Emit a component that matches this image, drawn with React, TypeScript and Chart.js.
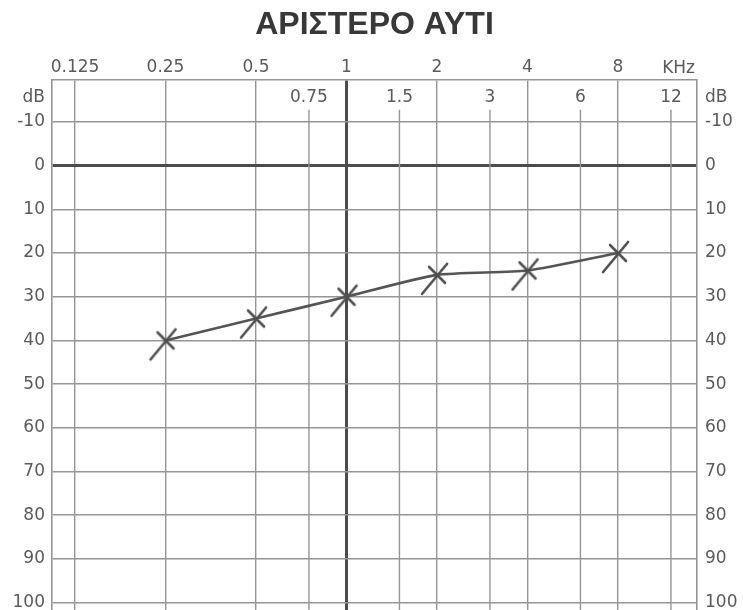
import React, { useEffect, useRef } from "react";
import { Chart, registerables } from "chart.js";

Chart.register(...registerables);

const TITLE = "ΑΡΙΣΤΕΡΟ ΑΥΤΙ";
const FREQ_UNIT = "KHz";
const DB_UNIT = "dB";
const majorFreqs = [0.125, 0.25, 0.5, 1, 2, 4, 8];
const majorFreqLabels = ["0.125", "0.25", "0.5", "1", "2", "4", "8"];
const minorFreqs = [0.75, 1.5, 3, 6, 12];
const minorFreqLabels = ["0.75", "1.5", "3", "6", "12"];
const dbTicks = [-10, 0, 10, 20, 30, 40, 50, 60, 70, 80, 90, 100];
const dbTickLabels = ["-10", "0", "10", "20", "30", "40", "50", "60", "70", "80", "90", "100"];
const testFreqs = [0.25, 0.5, 1, 2, 4, 8];
const leftEarThresholds = [40, 35, 30, 25, 24, 20];

const X_MIN = 0.1048;
const X_MAX = 14.65;
const Y_MIN = -19.6;
const Y_MAX = 101.8;
const MINOR_LINE_TOP_DB = -12.8;
const MINOR_LABEL_DB = -15.5;

const TEXT = "#5a5a5a";
const GRID = "#959595";
const HEAVY = "#4c4c4c";
const FONT = "'DejaVu Sans', sans-serif";

function makeMarker(): HTMLCanvasElement {
  const c = document.createElement("canvas");
  c.width = 48;
  c.height = 48;
  const ctx = c.getContext("2d")!;
  ctx.strokeStyle = "#4e4e4e";
  ctx.lineWidth = 2.6;
  ctx.lineCap = "round";
  ctx.beginPath();
  ctx.moveTo(24 + 10, 24 - 11);
  ctx.lineTo(24 - 15, 24 + 19);
  ctx.moveTo(24 - 8, 24 - 8);
  ctx.lineTo(24 + 8, 24 + 8);
  ctx.stroke();
  return c;
}

const zeroPad = (s: any) => {
  s.paddingTop = 0;
  s.paddingBottom = 0;
  s.paddingLeft = 0;
  s.paddingRight = 0;
};

const extrasPlugin = {
  id: "audiogramExtras",
  beforeDatasetsDraw(chart: any) {
    const { ctx, chartArea } = chart;
    const xs = chart.scales.x;
    const ys = chart.scales.y;
    ctx.save();
    ctx.strokeStyle = GRID;
    ctx.lineWidth = 1.4;
    const yTop = ys.getPixelForValue(MINOR_LINE_TOP_DB);
    minorFreqs.forEach((f) => {
      const px = xs.getPixelForValue(f);
      ctx.beginPath();
      ctx.moveTo(px, yTop);
      ctx.lineTo(px, chartArea.bottom);
      ctx.stroke();
    });
    ctx.fillStyle = TEXT;
    ctx.font = `17px ${FONT}`;
    ctx.textAlign = "center";
    ctx.textBaseline = "middle";
    const yLab = ys.getPixelForValue(MINOR_LABEL_DB);
    minorFreqs.forEach((f, i) => {
      ctx.fillText(minorFreqLabels[i], xs.getPixelForValue(f), yLab);
    });
    ctx.textAlign = "right";
    ctx.fillText(DB_UNIT, chartArea.left - 7, yLab);
    ctx.textAlign = "left";
    ctx.fillText(DB_UNIT, chartArea.right + 8, yLab);
    ctx.textAlign = "right";
    ctx.fillText(FREQ_UNIT, chartArea.right - 2, chartArea.top - 11);
    ctx.fillStyle = "#383838";
    ctx.font = `bold 32px 'Liberation Sans', Arial, sans-serif`;
    ctx.textAlign = "center";
    ctx.fillText(TITLE, (chartArea.left + chartArea.right) / 2, 25);
    ctx.restore();
  },
};

export default function App() {
  const ref = useRef<HTMLCanvasElement | null>(null);
  useEffect(() => {
    if (!ref.current) return;
    const marker = makeMarker();
    const yCommon = {
      type: "linear" as const,
      min: Y_MIN,
      max: Y_MAX,
      reverse: true,
      afterBuildTicks: (s: any) => {
        s.ticks = dbTicks.map((v) => ({ value: v }));
      },
    };
    const chart = new Chart(ref.current, {
      type: "line",
      data: {
        datasets: [
          {
            label: TITLE,
            data: testFreqs.map((f, i) => ({ x: f, y: leftEarThresholds[i] })),
            borderColor: "#555555",
            borderWidth: 2.6,
            tension: 0.2,
            pointStyle: marker as any,
            pointRadius: 10,
          },
        ],
      },
      options: {
        animation: false,
        responsive: false,
        layout: { padding: 0 },
        plugins: {
          legend: { display: false },
          tooltip: { enabled: false },
          title: { display: false },
        },
        scales: {
          x: {
            type: "logarithmic",
            position: "top",
            min: X_MIN,
            max: X_MAX,
            afterFit: (s: any) => {
              s.height = 80;
              zeroPad(s);
            },
            afterBuildTicks: (s: any) => {
              s.ticks = majorFreqs.map((v) => ({ value: v }));
            },
            ticks: {
              autoSkip: false,
              maxRotation: 0,
              padding: 2,
              color: TEXT,
              font: { family: FONT, size: 17 },
              callback: (v: any) => {
                const i = majorFreqs.indexOf(Number(v));
                return i >= 0 ? majorFreqLabels[i] : "";
              },
            },
            grid: {
              drawTicks: false,
              color: (c: any) => (c.tick && c.tick.value === 1 ? HEAVY : GRID),
              lineWidth: (c: any) => (c.tick && c.tick.value === 1 ? 3 : 1.4),
            },
            border: { display: true, color: GRID, width: 1.6 },
          },
          y: {
            ...yCommon,
            position: "left",
            afterFit: (s: any) => {
              s.width = 52;
              zeroPad(s);
            },
            ticks: {
              padding: 7,
              color: TEXT,
              font: { family: FONT, size: 17 },
              callback: (v: any) => {
                const i = dbTicks.indexOf(Number(v));
                return i >= 0 ? dbTickLabels[i] : "";
              },
            },
            grid: {
              drawTicks: false,
              color: (c: any) => (c.tick && c.tick.value === 0 ? HEAVY : GRID),
              lineWidth: (c: any) => (c.tick && c.tick.value === 0 ? 3 : 1.4),
            },
            border: { display: true, color: GRID, width: 1.6 },
          },
          y2: {
            ...yCommon,
            position: "right",
            afterFit: (s: any) => {
              s.width = 46;
              zeroPad(s);
            },
            ticks: {
              padding: 8,
              color: TEXT,
              font: { family: FONT, size: 17 },
              callback: (v: any) => {
                const i = dbTicks.indexOf(Number(v));
                return i >= 0 ? dbTickLabels[i] : "";
              },
            },
            grid: { display: false, drawTicks: false },
            border: { display: true, color: GRID, width: 1.6 },
          },
        },
      },
      plugins: [extrasPlugin],
    });
    return () => chart.destroy();
  }, []);
  return (
    <div
      style={{
        position: "fixed",
        left: 0,
        top: 0,
        width: 743,
        height: 610,
        overflow: "hidden",
        background: "#fff",
      }}
    >
      <canvas ref={ref} width={743} height={623} style={{ display: "block" }} />
    </div>
  );
}
